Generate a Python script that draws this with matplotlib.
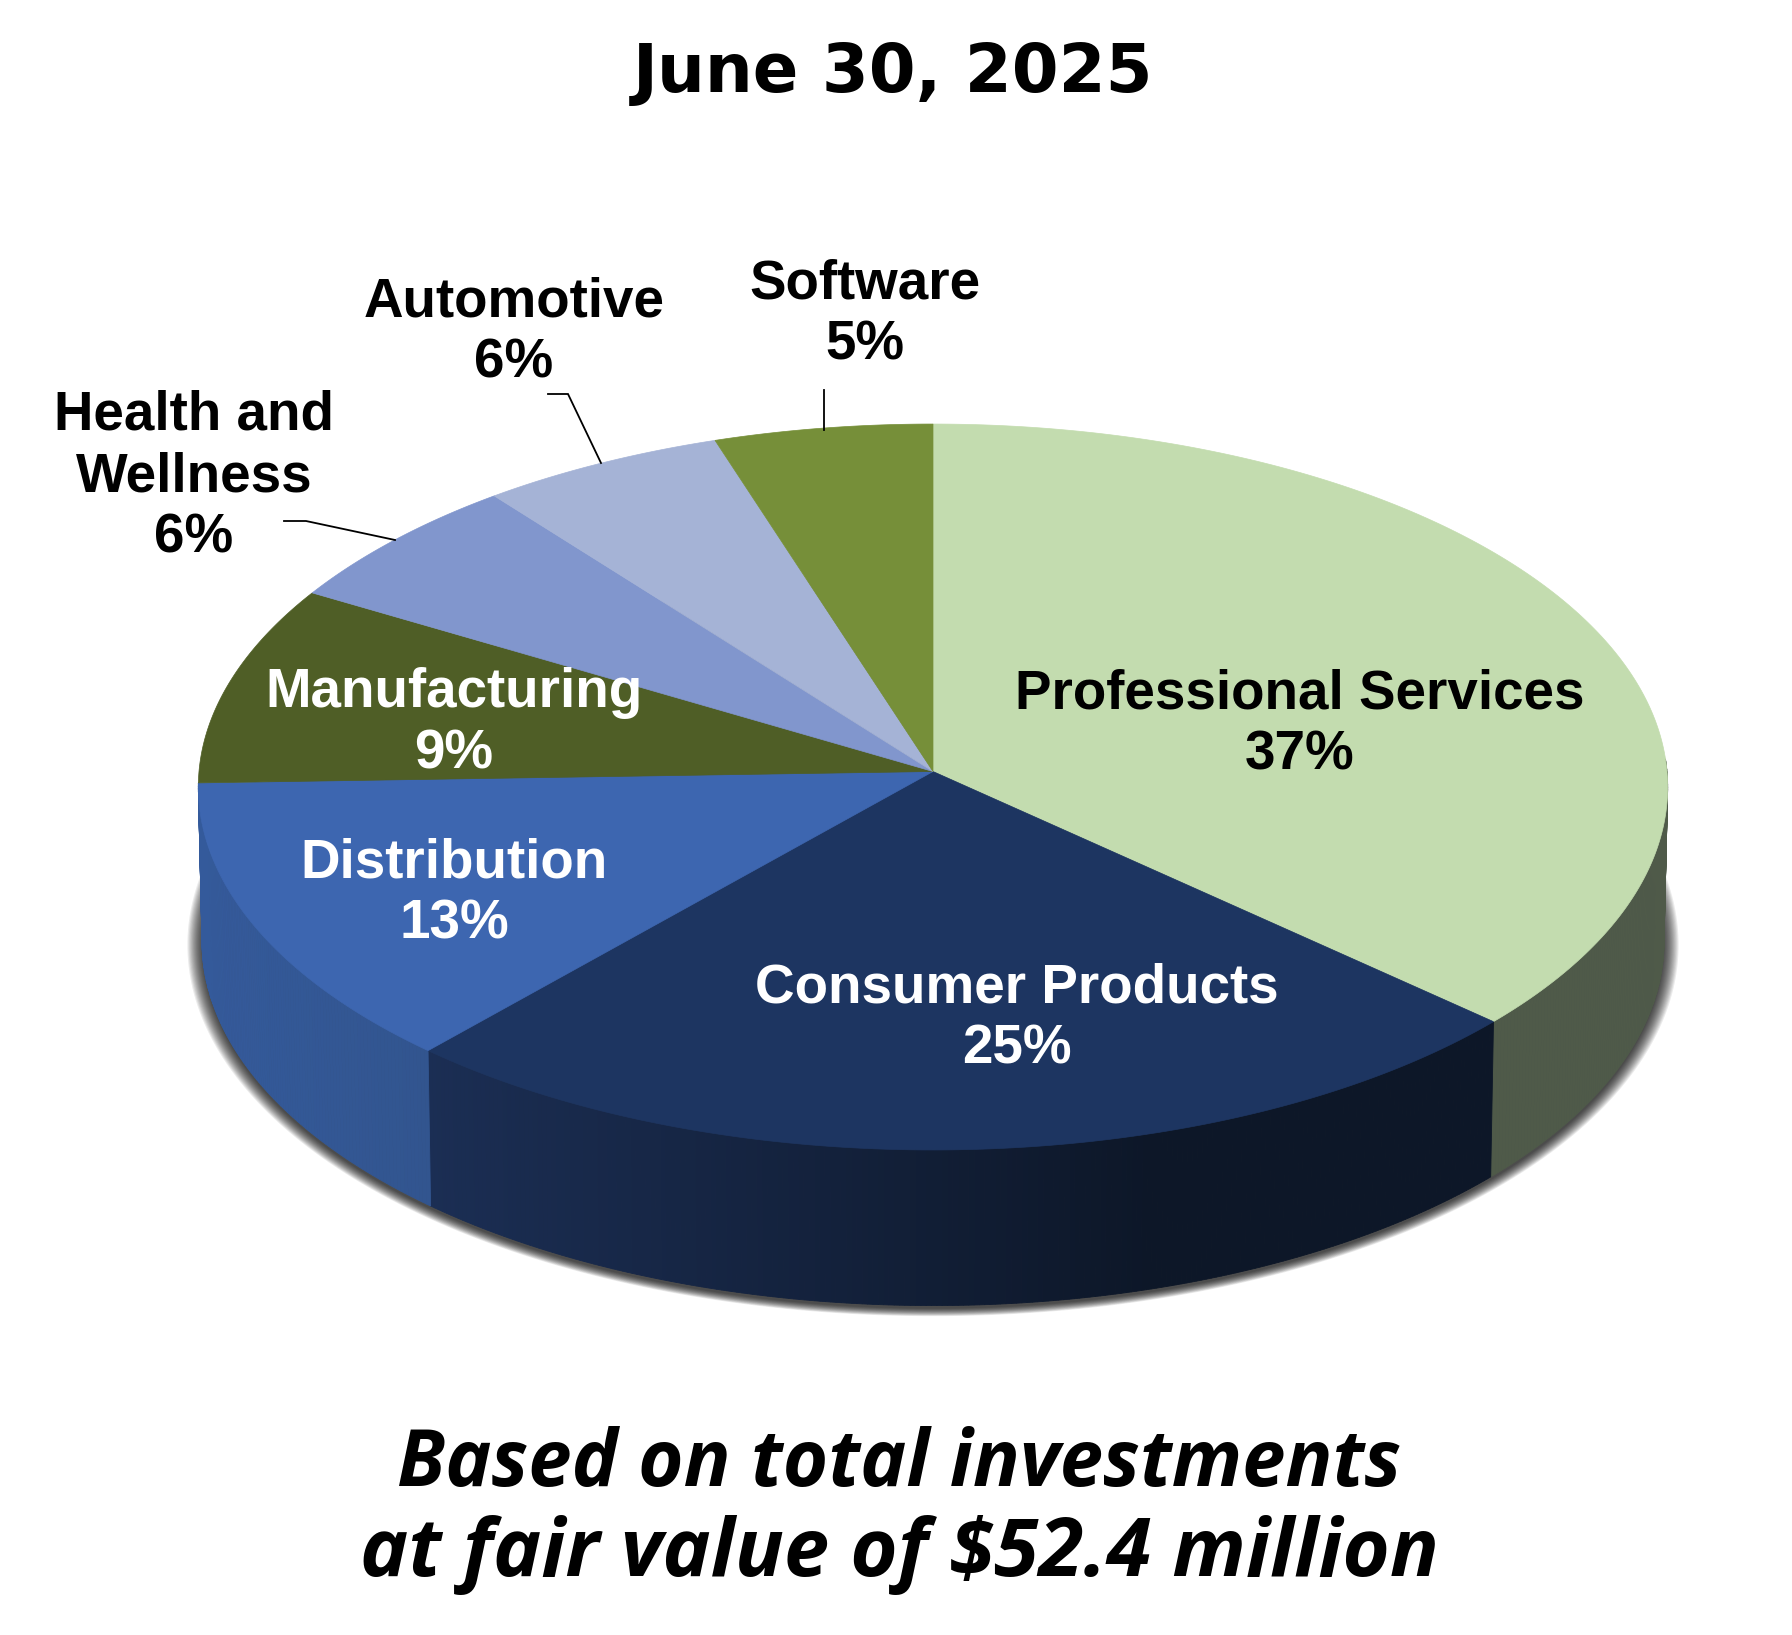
import numpy as np
import matplotlib
matplotlib.use("Agg")
import matplotlib.pyplot as plt

# slice shares, drawn clockwise from 12 o'clock
sectors = ["Professional Services", "Consumer Products", "Distribution", "Manufacturing",
           "Health and\nWellness", "Automotive", "Software"]
shares = [36.7, 24.9, 12.9, 8.9, 6.0, 5.6, 5.0]
percent_labels = ["37%", "25%", "13%", "9%", "6%", "6%", "5%"]

top_colors = ["#C3DCAF", "#1D3561", "#3D66B0", "#4F5E26", "#8196CD", "#A5B3D6", "#768F39"]
# wall colour at the left and right end of each slice's rim
wall_colors = [("#4F5A49", "#4F5A49"), ("#1B2E54", "#0D1728"), ("#345A9B", "#32558F"),
               None, None, None, None]
text_colors = ["black", "white", "white", "white", "black", "black", "black"]
label_xy = [(1300, 725), (1017, 1019), (454, 894), (454, 724), (194, 477), (514, 333), (865, 315)]

leaders = {"Software": ([824, 824], [390, 430]),
           "Automotive": ([548, 568, 601], [394, 394, 463]),
           "Health": ([284, 306, 395], [521, 521, 540])}

CX, CY = 933, 771.5
R, K, P = 734, 362.3, -0.0427
WALL_DY, WALL_SCALE, WALL_KY = 154.5, 0.995, 1.008


def project(theta_deg, scale=1.0, cy=CY, ky=1.0):
    # theta runs clockwise from the top; the front of the disc is drawn a bit larger
    t = np.radians(theta_deg)
    x, y = np.sin(t), -np.cos(t)
    d = 1 + P * y
    return CX + scale * R * x / d, cy + ky * scale * K * y / d


fig = plt.figure(figsize=(17.92, 16.35), dpi=100)
ax = fig.add_axes([0, 0, 1, 1])
ax.set_xlim(0, 1792)
ax.set_ylim(1635, 0)
ax.axis("off")

# soft shadow under the base
for s in np.linspace(1.02, 1.0, 14):
    sx, sy = project(np.linspace(0, 360, 361), WALL_SCALE * s, CY + WALL_DY + 3, WALL_KY)
    ax.fill(sx, sy, color="black", alpha=0.08, lw=0, zorder=1)

edges = np.concatenate([[0], np.cumsum(shares)]) / sum(shares) * 360

# side walls, in thin strips so the shading can run along the rim
for i in range(len(shares)):
    if wall_colors[i] is None:
        continue
    th = np.arange(max(edges[i], 88), min(edges[i + 1], 272) + 0.4, 0.4)
    th[-1] = min(edges[i + 1], 272)
    x_top, y_top = project(th)
    x_bot, y_bot = project(th, WALL_SCALE, CY + WALL_DY, WALL_KY)
    c_left = np.array(matplotlib.colors.to_rgb(wall_colors[i][0]))
    c_right = np.array(matplotlib.colors.to_rgb(wall_colors[i][1]))
    for j in range(len(th) - 1):
        f = (x_top[j] - x_top.min()) / (x_top.max() - x_top.min())
        if i == 1:
            f = min(f / 0.68, 1)
        col = c_left + (c_right - c_left) * f
        ax.fill([x_top[j], x_top[j + 1], x_bot[j + 1], x_bot[j]],
                [y_top[j], y_top[j + 1], y_bot[j + 1], y_bot[j]],
                color=col, lw=0.6, zorder=2)

# top of the disc
for i in range(len(shares)):
    th = np.linspace(edges[i], edges[i + 1], 200)
    x, y = project(th)
    ax.fill(np.r_[CX, x], np.r_[CY, y], color=top_colors[i], lw=0.5, zorder=3)

for i in range(len(shares)):
    ax.text(label_xy[i][0], label_xy[i][1], sectors[i] + "\n" + percent_labels[i],
            ha="center", va="center", ma="center", color=text_colors[i], fontsize=39.4,
            family="Liberation Sans", fontweight="bold", linespacing=1.24, zorder=5)

for lx, ly in leaders.values():
    ax.plot(lx, ly, color="black", lw=1.3, zorder=4, solid_joinstyle="miter")

ax.text(893, 73, "June 30, 2025", ha="center", va="center", fontsize=48.5,
        family="DejaVu Sans", fontweight="bold", color="black")
ax.text(899, 1465, "Based on total investments", ha="center", va="center", fontsize=56,
        family="Open Sans", fontweight="bold", style="italic", color="black")
ax.text(899, 1555, "at fair value of $52.4 million", ha="center", va="center", fontsize=58.5,
        family="Open Sans", fontweight="bold", style="italic", color="black")

fig.savefig("out.png", dpi=100, facecolor="white")
